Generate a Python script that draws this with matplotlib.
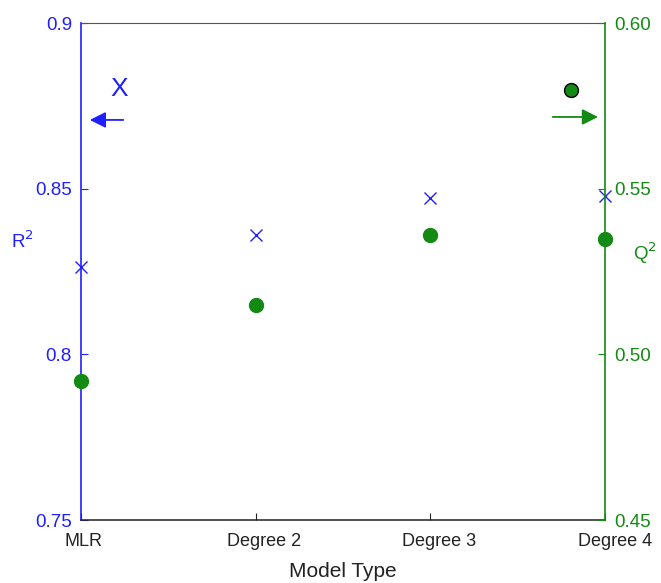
import numpy as np
import matplotlib
matplotlib.use("Agg")
import matplotlib.pyplot as plt
from matplotlib.transforms import ScaledTranslation

plt.rcParams['font.family'] = ['Liberation Sans', 'DejaVu Sans']

modelos = ["MLR", "Degree 2", "Degree 3", "Degree 4"]
r2 = [0.8265, 0.836, 0.8472, 0.8478]   # eje izquierdo (azul)
q2 = [0.492, 0.515, 0.536, 0.5348]     # eje derecho (verde)
r2_ticks = [0.75, 0.8, 0.85, 0.9]
r2_ticklabels = ["0.75", "0.8", "0.85", "0.9"]
q2_ticks = [0.45, 0.50, 0.55, 0.60]
q2_ticklabels = ["0.45", "0.50", "0.55", "0.60"]

azul = '#1f1fff'
verde = '#138a13'

fig = plt.figure(figsize=(6.61, 5.83), dpi=100)
ax1 = fig.add_axes([0.1225, 0.108, 0.7928, 0.8525])
x = np.arange(1, len(modelos) + 1)

ax1.plot(x, r2, linestyle='none', marker='x', markersize=8, mew=1.0, color=azul, clip_on=False, zorder=5)
ax1.set_xlim(1, 4)
ax1.set_ylim(0.75, 0.9)
ax1.set_xticks(x)
ax1.set_xticklabels(modelos, fontsize=13, color='#222222')
ax1.set_yticks(r2_ticks)
ax1.set_yticklabels(r2_ticklabels, fontsize=13.5, color=azul)
ax1.tick_params(axis='y', direction='in', colors=azul, length=5, pad=6.5, labelcolor=azul)
ax1.tick_params(axis='x', direction='in', length=5, color='#222222', pad=9)
# las etiquetas del eje x estan corridas a la derecha en el original
for lab, dx in zip(ax1.get_xticklabels(), [3, 8, 9, 10]):
    lab.set_transform(lab.get_transform() + ScaledTranslation(dx / 100, 0, fig.dpi_scale_trans))
ax1.set_xlabel('Model Type', fontsize=15, labelpad=9, color='#222222')
ax1.set_ylabel('R$^2$', fontsize=13.5, color=azul, rotation=0, ha='center', va='center')
ax1.yaxis.set_label_coords(-0.111, 0.56)
ax1.spines['left'].set_color(azul)
ax1.spines['left'].set_linewidth(1.2)
ax1.spines['right'].set_visible(False)
ax1.spines['top'].set_color('#555555')
ax1.spines['bottom'].set_color('#222222')
ax1.spines['bottom'].set_linewidth(1.1)

ax2 = ax1.twinx()
ax2.plot(x, q2, linestyle='none', marker='o', markersize=10, color=verde, mec=verde, clip_on=False, zorder=5)
ax2.set_ylim(0.45, 0.60)
ax2.set_yticks(q2_ticks)
ax2.set_yticklabels(q2_ticklabels, fontsize=13.5, color=verde)
ax2.tick_params(axis='y', direction='in', colors=verde, length=5, pad=7, labelcolor=verde)
ax2.set_ylabel('Q$^2$', fontsize=13.5, color=verde, rotation=0, ha='center', va='center')
ax2.yaxis.set_label_coords(1.076, 0.537)
ax2.spines['right'].set_color(verde)
ax2.spines['right'].set_linewidth(1.2)
ax2.spines['left'].set_visible(False)
ax2.spines['top'].set_visible(False)
ax2.spines['bottom'].set_visible(False)

# leyenda con flechas
ax1.text(0.0735, 0.867, 'X', transform=ax1.transAxes, fontsize=19, color=azul, ha='center', va='center')
ax1.annotate('', xy=(0.0115, 0.805), xytext=(0.086, 0.805), xycoords='axes fraction',
             arrowprops=dict(arrowstyle='-|>', color=azul, lw=1.3, mutation_scale=24))
ax2.plot([0.935], [0.865], marker='o', markersize=10, color=verde, mec='black', mew=1.0,
         transform=ax2.transAxes, clip_on=False)
ax2.annotate('', xy=(0.992, 0.811), xytext=(0.895, 0.811), xycoords='axes fraction',
             arrowprops=dict(arrowstyle='-|>', color=verde, lw=1.3, mutation_scale=24))

fig.savefig('out.png', dpi=100)
